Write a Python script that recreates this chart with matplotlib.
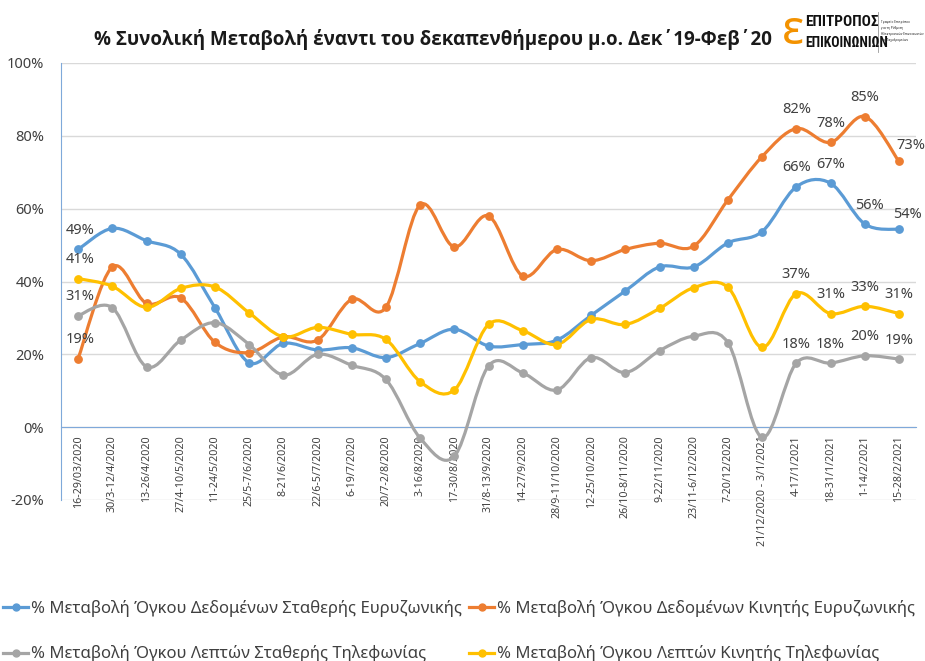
#!/usr/bin/env python3
"""
% change vs Dec'19-Feb'20 fortnight average: data & voice traffic, fixed vs mobile.
Excel-style smoothed lines, 925x661 output.
"""
import matplotlib
matplotlib.use('Agg')
import matplotlib.pyplot as plt
from matplotlib import font_manager as fm
from matplotlib.path import Path
from matplotlib.patches import PathPatch
from matplotlib.lines import Line2D

plt.rcParams['font.family'] = ['Noto Sans', 'DejaVu Sans']

periods = ['16-29/03/2020', '30/3-12/4/2020', '13-26/4/2020', '27/4-10/5/2020',
           '11-24/5/2020', '25/5-7/6/2020', '8-21/6/2020', '22/6-5/7/2020',
           '6-19/7/2020', '20/7-2/8/2020', '3-16/8/2020', '17-30/8/2020',
           '31/8-13/9/2020', '14-27/9/2020', '28/9-11/10/2020', '12-25/10/2020',
           '26/10-8/11/2020', '9-22/11/2020', '23/11-6/12/2020', '7-20/12/2020',
           '21/12/2020 - 3/1/2021', '4-17/1/2021', '18-31/1/2021', '1-14/2/2021',
           '15-28/2/2021']

fixed_data = [48.8, 54.6, 51.2, 47.5, 32.8, 17.7, 23.0, 21.2, 21.8, 19.1, 23.0, 26.9, 22.3,
              22.7, 23.9, 30.7, 37.4, 44.0, 44.0, 50.6, 53.7, 66.0, 67.0, 55.8, 54.3]
mobile_data = [18.8, 44.0, 34.0, 35.5, 23.3, 20.5, 24.8, 23.9, 35.1, 32.9, 61.0, 49.5, 58.0,
               41.5, 48.8, 45.7, 48.8, 50.5, 49.7, 62.4, 74.3, 82.0, 78.2, 85.3, 73.0]
fixed_voice = [30.6, 32.8, 16.6, 23.9, 28.7, 22.7, 14.3, 20.0, 17.0, 13.1, -3.0, -8.0, 16.8,
               14.9, 10.2, 19.1, 15.0, 21.0, 25.0, 23.2, -2.8, 17.6, 17.6, 19.6, 18.7]
mobile_voice = [40.8, 38.7, 32.9, 38.1, 38.5, 31.4, 24.8, 27.4, 25.5, 24.1, 12.5, 10.2, 28.2,
                26.5, 22.7, 29.6, 28.2, 32.6, 38.3, 38.4, 21.9, 36.7, 31.2, 33.2, 31.2]

names = ['% Μεταβολή Όγκου Δεδομένων Σταθερής Ευρυζωνικής',
         '% Μεταβολή Όγκου Δεδομένων Κινητής Ευρυζωνικής',
         '% Μεταβολή Όγκου Λεπτών Σταθερής Τηλεφωνίας',
         '% Μεταβολή Όγκου Λεπτών Κινητής Τηλεφωνίας']
colors = ['#5b9bd5', '#ed7d31', '#a5a5a5', '#ffc000']
labelled = [0, 21, 22, 23, 24]


def has_font(name, bold=False):
    for e in fm.fontManager.ttflist:
        if e.name == name and (not bold or e.weight in (600, 700, 'bold', 'semibold')):
            return True
    return False


def first_font(cands, bold=False):
    for c in cands:
        if has_font(c, bold):
            return c
    return 'DejaVu Sans'


def smooth_path(xs, ys, k=1 / 6):
    """Bezier path through the points, Excel 'smoothed line' style."""
    n = len(xs)
    verts = [(xs[0], ys[0])]
    codes = [Path.MOVETO]
    for i in range(n - 1):
        a = max(i - 1, 0)
        b = min(i + 2, n - 1)
        c1 = (xs[i] + (xs[i + 1] - xs[a]) * k, ys[i] + (ys[i + 1] - ys[a]) * k)
        c2 = (xs[i + 1] - (xs[b] - xs[i]) * k, ys[i + 1] - (ys[b] - ys[i]) * k)
        verts += [c1, c2, (xs[i + 1], ys[i + 1])]
        codes += [Path.CURVE4] * 3
    return Path(verts, codes)


title_font = first_font(['Noto Sans', 'Open Sans', 'Roboto'], bold=True)
narrow_font = first_font(['Liberation Sans Narrow', 'Roboto Condensed', 'DejaVu Sans Condensed'],
                         bold=True)
narrow_ok = narrow_font != 'DejaVu Sans'

fig = plt.figure(figsize=(9.25, 6.61), dpi=100)
ax = fig.add_axes([61 / 925, 1 - 500 / 661, 855 / 925, 437 / 661])

# spines first: moving a spine resets the tick labels
for s in ['top', 'right']:
    ax.spines[s].set_visible(False)
ax.spines['bottom'].set_position(('data', 0))
ax.spines['bottom'].set_color('#7fa9da')
ax.spines['left'].set_color('#7fa9da')

x = list(range(len(periods)))
series = [fixed_data, mobile_data, fixed_voice, mobile_voice]
for vals, c in zip(series, colors):
    ax.add_patch(PathPatch(smooth_path(x, vals), fill=False, edgecolor=c, lw=2.3,
                           capstyle='round', joinstyle='round', zorder=3))
    ax.plot(x, vals, 'o', ms=5.3, color=c, zorder=4)

# data labels: first point and last four points
offsets = {(0, 23): (5, 18), (0, 24): (9, 15), (1, 24): (12, 16)}
for si, vals in enumerate(series):
    for i in labelled:
        dx, dy = offsets.get((si, i), (2 if i == 0 else 0, 19))
        ax.annotate(f'{round(vals[i])}%', (i, vals[i]), xytext=(dx, dy),
                    textcoords='offset pixels', ha='center', va='center',
                    fontsize=10.5, color='#404040', zorder=5)

ax.set_xlim(-0.5, len(periods) - 0.5)
ax.set_ylim(-20, 100)
ax.set_yticks(range(-20, 101, 20))
ax.set_yticklabels([f'{v}%' for v in range(-20, 101, 20)])
ax.set_xticks(x)
ax.set_xticklabels(periods)
ax.tick_params(axis='x', length=0, pad=6, labelsize=7.7, labelcolor='#404040',
               labelrotation=90)
ax.tick_params(axis='y', length=0, pad=12, labelsize=10.5, labelcolor='#404040')
for t in ax.get_xticklabels():
    t.set_ha('center')
    t.set_va('top')

ax.yaxis.grid(True, color='#d9d9d9', lw=1)
ax.set_axisbelow(True)

fig.text(433 / 925, 1 - 40 / 661,
         '% Συνολική Μεταβολή έναντι του δεκαπενθήμερου μ.ο. Δεκ΄19-Φεβ΄20',
         ha='center', va='center', fontsize=13.5, fontweight='bold',
         family=[title_font, 'DejaVu Sans'], color='#1a1a1a')

# logo
fig.text(793 / 925, 1 - 32 / 661, 'ε', ha='center', va='center', fontsize=34,
         fontweight='bold', color='#f39200')
logo_size = 11 if narrow_ok else 7.0
fig.text(805 / 925, 1 - 22 / 661, 'ΕΠΙΤΡΟΠΟΣ', ha='left', va='center', fontsize=logo_size,
         fontweight='bold', family=[narrow_font, 'DejaVu Sans'], color='#111111')
fig.text(805 / 925, 1 - 43 / 661, 'ΕΠΙΚΟΙΝΩΝΙΩΝ', ha='left', va='center',
         fontsize=logo_size * 0.9, fontweight='bold', family=[narrow_font, 'DejaVu Sans'],
         color='#111111')
fig.add_artist(Line2D([878 / 925, 878 / 925], [1 - 12 / 661, 1 - 52 / 661],
                      color='#999999', lw=0.6))
fig.text(881 / 925, 1 - 31 / 661,
         'Γραφείο Επιτρόπου\nγια τη Ρύθμιση\nΗλεκτρονικών Επικοινωνιών\nκαι Ταχυδρομείων',
         ha='left', va='center', fontsize=2.6, family=[narrow_font, 'DejaVu Sans'],
         color='#333333', linespacing=1.7)

handles = [Line2D([], [], color=c, lw=2.3, marker='o', ms=5) for c in colors]
order = [0, 2, 1, 3]
fig.legend([handles[i] for i in order], [names[i] for i in order],
           loc='upper left', bbox_to_anchor=(3 / 925, 1 - 600 / 661), ncol=2,
           frameon=False, fontsize=12.0, labelcolor='#404040', handlelength=1.5,
           handletextpad=0.2, columnspacing=0.4, labelspacing=1.7, borderpad=0,
           borderaxespad=0)

fig.savefig('out.png', dpi=100)
